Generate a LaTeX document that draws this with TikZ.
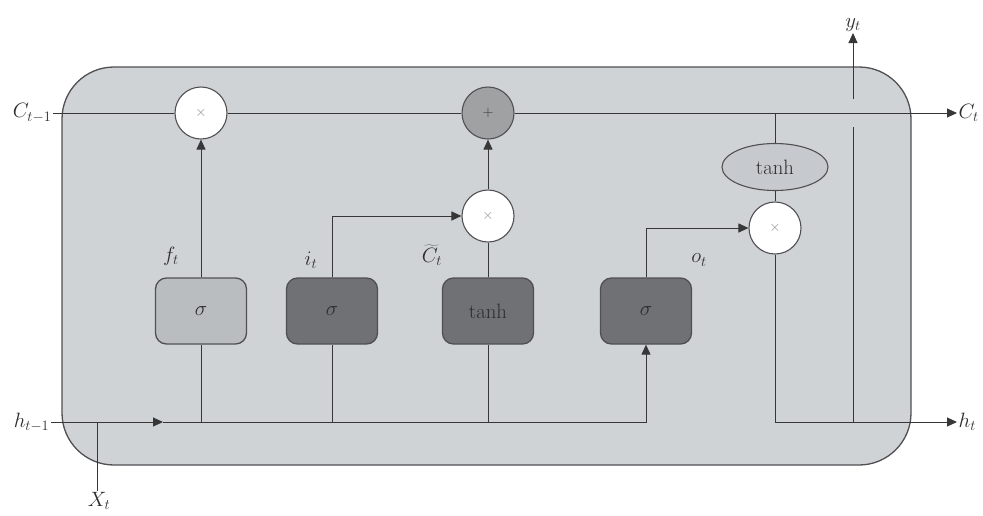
\documentclass[tikz,border=0pt]{standalone}
\usetikzlibrary{arrows.meta,shapes.geometric}

\definecolor{cellbg}{RGB}{208,211,214}
\definecolor{gatelight}{RGB}{186,189,192}
\definecolor{gatedark}{RGB}{112,113,116}
\definecolor{plusfill}{RGB}{160,161,163}
\definecolor{ellfill}{RGB}{198,201,205}
\definecolor{wirec}{RGB}{55,55,55}
\definecolor{edgec}{RGB}{80,80,82}
\definecolor{signc}{RGB}{140,140,142}
\definecolor{textc}{RGB}{45,45,45}

\begin{document}
\begin{tikzpicture}[x=1pt,y=-1pt,
  wire/.style={draw=wirec, line width=1pt},
  arr/.style={wire, -{Triangle[length=10pt,width=9pt]}},
  gate/.style={draw=edgec, line width=1.3pt, rounded corners=11pt,
    minimum width=91pt, minimum height=66pt, inner sep=0pt,
    font=\huge, text=textc},
  op/.style={circle, draw=edgec, line width=1.1pt, fill=white,
    minimum size=52pt, inner sep=0pt, font=\Large, text=signc},
  ell/.style={ellipse, draw=edgec, line width=1.1pt, fill=ellfill,
    minimum width=106pt, minimum height=47pt, inner sep=0pt,
    font=\huge, text=textc},
  lbl/.style={font=\huge, text=textc, inner sep=1.5pt}]

\useasboundingbox (0,0) rectangle (983,515);

% cell body
\draw[draw=edgec, line width=1.3pt, fill=cellbg, rounded corners=52pt]
  (62,67) rectangle (911,465);

% pointwise operations
\node[op] (mf) at (201,113) {$\times$};
\node[op, fill=plusfill, text=wirec] (ad) at (488,113) {$+$};
\node[op] (mi) at (488,216) {$\times$};
\node[op] (mo) at (775,228) {$\times$};
\node[ell] (th) at (775,167) {tanh};

% gate layers
\node[gate, fill=gatelight] (gf) at (201,311) {$\sigma$};
\node[gate, fill=gatedark] (gi) at (332,311) {$\sigma$};
\node[gate, fill=gatedark] (gg) at (488,311) {tanh};
\node[gate, fill=gatedark] (go) at (646,311) {$\sigma$};

% inputs and outputs
\node[lbl, anchor=east] (cprev) at (53,113) {$C_{t-1}$};
\node[lbl, anchor=east] (hprev) at (51,422) {$h_{t-1}$};
\node[lbl, anchor=west] (cnext) at (957,113) {$C_t$};
\node[lbl, anchor=west] (hnext) at (957,422) {$h_t$};
\node[lbl, anchor=south] (yt) at (853,33) {$y_t$};
\node[lbl] (xt) at (99,501) {$X_t$};

% gate output labels
\node[lbl] (lf) at (171,256) {$f_t$};
\node[lbl] (li) at (311,260) {$i_t$};
\node[lbl] (lc) at (432,255) {$\widetilde{C}_t$};
\node[lbl] (lo) at (699,260) {$o_t$};

% junction points
\coordinate (hmid) at (163,422);
\coordinate (xj) at (97,422);
\coordinate (ctap) at (775,113);
\coordinate (yj) at (853,422);
\coordinate (yhopL) at (853,127);
\coordinate (yhopU) at (853,99);

% cell state line
\draw[wire] (cprev.east) -- (mf.west);
\draw[wire] (mf.east) -- (ad.west);
\draw[arr] (ad.east) -- (cnext.west);

% hidden state input line
\draw[arr] (hprev.east) -- (hmid);
\draw[arr] (hmid) -- (go.south |- hmid) -- (go.south);
\draw[wire] (xj) -- (xj |- xt.north);
\draw[wire] (gf.south |- hmid) -- (gf.south);
\draw[wire] (gi.south |- hmid) -- (gi.south);
\draw[wire] (gg.south |- hmid) -- (gg.south);

% gate outputs
\draw[arr] (gf.north) -- (mf.south);
\draw[arr] (gi.north) -- (gi.north |- mi.west) -- (mi.west);
\draw[wire] (gg.north) -- (mi.south);
\draw[arr] (mi.north) -- (ad.south);
\draw[arr] (go.north) -- (go.north |- mo.west) -- (mo.west);

% output path
\draw[wire] (ctap) -- (th.north);
\draw[wire] (th.south) -- (mo.north);
\draw[arr] (mo.south) -- (mo.south |- hnext.west) -- (hnext.west);
\draw[wire] (yj) -- (yhopL);
\draw[arr] (yhopU) -- (yt.south);

\end{tikzpicture}
\end{document}
